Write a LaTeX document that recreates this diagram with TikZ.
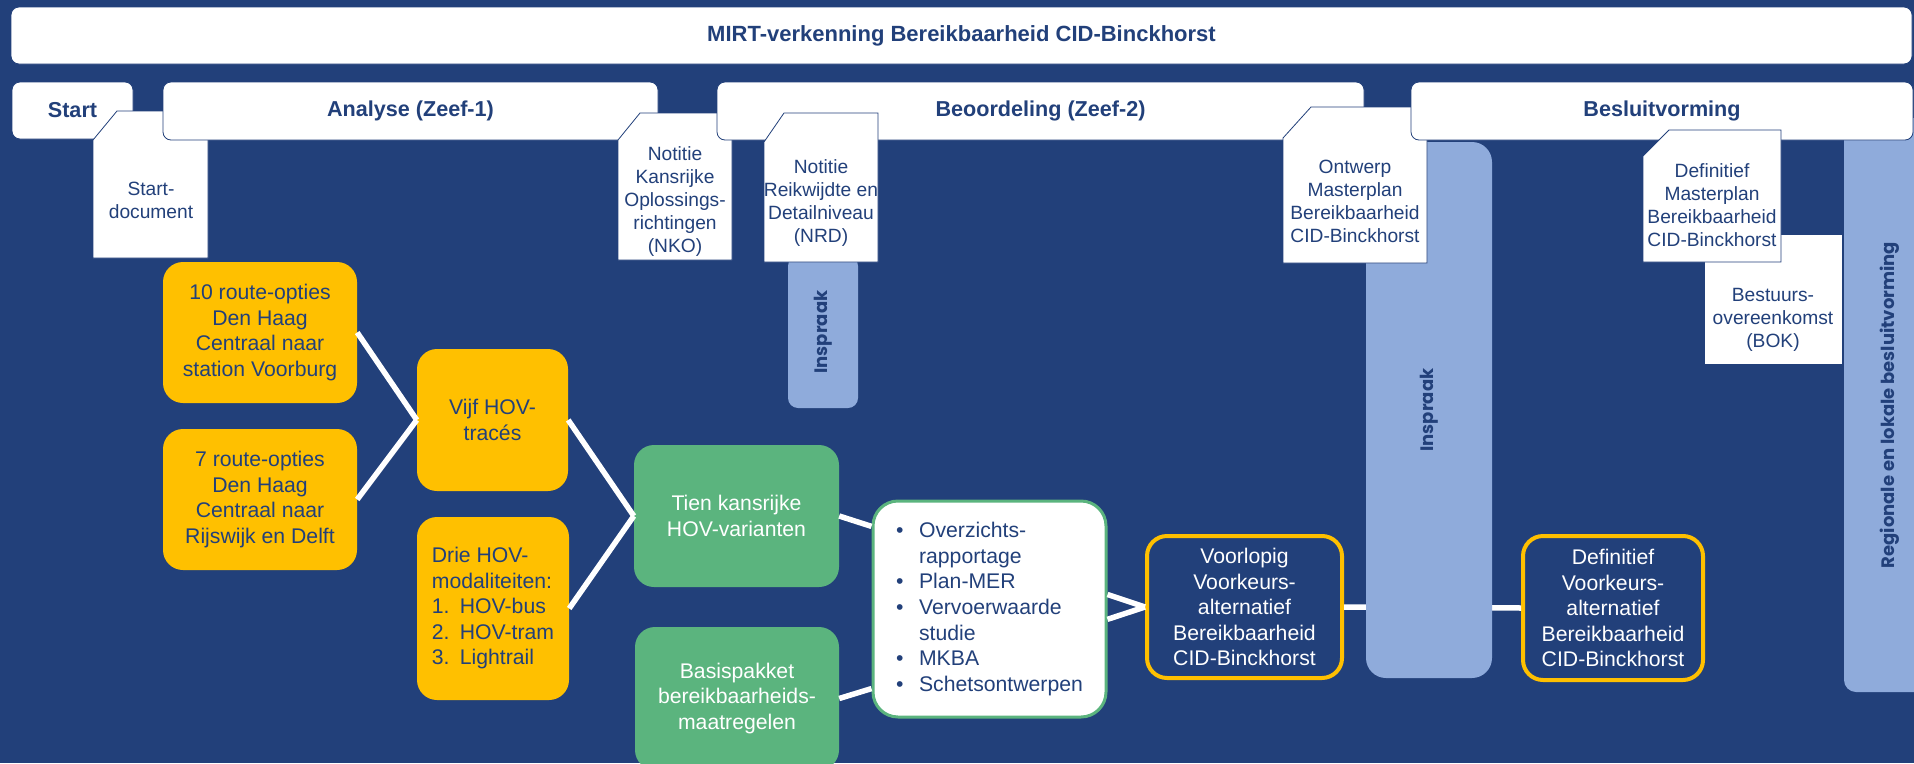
\documentclass[tikz,border=0pt]{standalone}
\usepackage{fontspec}
\setmainfont{Liberation Sans}
\newfontfamily\barfont{Poppins}
\definecolor{mirtblue}{RGB}{34,64,122}
\definecolor{mirtyellow}{RGB}{255,192,0}
\definecolor{mirtgreen}{RGB}{91,180,126}
\definecolor{mirtlight}{RGB}{143,171,219}

\begin{document}
\begin{tikzpicture}[x=1pt,y=-1pt,
    header/.style={fill=white, draw=mirtblue, line width=0.8pt, rounded corners=8pt, text=mirtblue, font=\fontsize{21.6}{26}\selectfont\bfseries},
    docline/.style={fill=white, draw=mirtblue, line width=0.8pt},
    doctext/.style={text=mirtblue, align=center, font=\fontsize{19.2}{23}\selectfont},
    ybox/.style={fill=mirtyellow, rounded corners=20pt, text=mirtblue, align=center, font=\fontsize{21.2}{25.5}\selectfont},
    gbox/.style={fill=mirtgreen, rounded corners=20pt, text=white, align=center, font=\fontsize{21.2}{25.5}\selectfont},
    vka/.style={draw=mirtyellow, line width=4pt, fill=mirtblue, rounded corners=20pt, text=white, align=center, font=\fontsize{21.2}{25.5}\selectfont},
    bar/.style={fill=mirtlight, text=mirtblue, font=\fontsize{18}{20}\selectfont\barfont\bfseries},
    link/.style={white, line width=5.5pt}]

    \fill[mirtblue] (0,0) rectangle (1914,763);
    \clip (0,0) rectangle (1914,763);

    \node[header, minimum width=1901pt, minimum height=57pt, font=\fontsize{22}{26}\selectfont\bfseries] (title) at (961.5,35.5) {MIRT-verkenning Bereikbaarheid CID-Binckhorst};

    % zeef 1
    \node[ybox, minimum width=194pt, minimum height=141pt] (opt10) at (260,332.5) {10 route-opties\\Den Haag\\Centraal naar\\station Voorburg};
    \node[ybox, minimum width=194pt, minimum height=141pt] (opt7) at (260,499.5) {7 route-opties\\Den Haag\\Centraal naar\\Rijswijk en Delft};
    \node[ybox, minimum width=151pt, minimum height=142pt] (vijf) at (492.5,420) {Vijf HOV-\\tracés};
    \node[ybox, minimum width=152pt, minimum height=183pt, align=left] (drie) at (493,608.5) {Drie HOV-\\modaliteiten:\\\makebox[28pt][l]{1.}HOV-bus\\\makebox[28pt][l]{2.}HOV-tram\\\makebox[28pt][l]{3.}Lightrail};

    % zeef 2
    \node[gbox, minimum width=205pt, minimum height=142pt] (tien) at (736.5,516) {Tien kansrijke\\HOV-varianten};
    \node[gbox, minimum width=204pt, minimum height=143pt] (basis) at (737,698.5) {Basispakket\\bereikbaarheids-\\maatregelen};
    \node[draw=mirtgreen, line width=3pt, fill=white, rounded corners=25pt, minimum width=233pt, minimum height=216pt, text=mirtblue, align=left, font=\fontsize{21.2}{25.6}\selectfont] (studies) at (989.5,609) {\makebox[23pt][l]{\textbullet}Overzichts-\\\hspace*{23pt}rapportage\\\makebox[23pt][l]{\textbullet}Plan-MER\\\makebox[23pt][l]{\textbullet}Vervoerwaarde\\\hspace*{23pt}studie\\\makebox[23pt][l]{\textbullet}MKBA\\\makebox[23pt][l]{\textbullet}Schetsontwerpen};
    \node[vka, minimum width=195pt, minimum height=142pt] (vka1) at (1244.5,607) {Voorlopig\\Voorkeurs-\\alternatief\\Bereikbaarheid\\CID-Binckhorst};
    \node[vka, minimum width=180pt, minimum height=144pt] (vka2) at (1613,608) {Definitief\\Voorkeurs-\\alternatief\\Bereikbaarheid\\CID-Binckhorst};

    \draw[link] (opt10.east) -- (vijf.west);
    \draw[link] (opt7.east) -- (vijf.west);
    \draw[link] (vijf.east) -- (tien.west);
    \draw[link] (drie.east) -- (tien.west);
    \draw[link] (tien.east) -- (studies.145);
    \draw[link] (basis.east) -- (studies.214);
    \draw[link] (studies.7) -- (vka1.west);
    \draw[link] (studies.355) -- (vka1.west);
    \draw[link] (vka1.east) -- (vka2.west); %onder inspraak door

    % fasen en documenten
    \node[header, minimum width=121pt, minimum height=57pt] (start) at (72.5,110.5) {Start};
    \filldraw[docline] (117,111) -- (208,111) -- (208,258) -- (93,258) -- (93,140) -- cycle; %startdocument
    \node[doctext] (startdoc) at (151,200) {Start-\\document};
    \node[header, minimum width=495pt, minimum height=58pt] (analyse) at (410.5,111) {Analyse (Zeef-1)};
    \filldraw[docline] (640,113) -- (732,113) -- (732,260) -- (618,260) -- (618,140) -- cycle; %NKO
    \node[doctext] (nko) at (675,201.5) {Notitie\\Kansrijke\\Oplossings-\\richtingen\\(NKO)};
    \node[header, minimum width=647pt, minimum height=58pt] (beoordeling) at (1040.5,111) {Beoordeling (Zeef-2)};
    \node[bar, minimum width=70pt, minimum height=152pt, rounded corners=10pt] (inspraak1) at (823,332) {\rotatebox{90}{Inspraak}};
    \filldraw[docline] (784,113) -- (878,113) -- (878,262) -- (764,262) -- (764,142) -- cycle; %NRD
    \node[doctext] (nrd) at (821,203) {Notitie\\Reikwijdte en\\Detailniveau\\(NRD)};

    \node[bar, minimum width=126pt, minimum height=536pt, rounded corners=20pt] (inspraak2) at (1429,410) {\rotatebox{90}{Inspraak}};
    \filldraw[docline] (1311,107) -- (1427,107) -- (1427,263) -- (1283,263) -- (1283,138) -- cycle; %ontwerp masterplan
    \node[doctext] (ontwerp) at (1355,201.5) {Ontwerp\\Masterplan\\Bereikbaarheid\\CID-Binckhorst};
    \node[bar, minimum width=92pt, minimum height=574pt, rounded corners=12pt] (regio) at (1890,405) {\rotatebox{90}{Regionale en lokale besluitvorming}};
    \node[header, minimum width=502pt, minimum height=58pt] (besluit) at (1662,111) {Besluitvorming};
    \filldraw[docline] (1704,234) rectangle (1842,364); %BOK
    \node[doctext] (bok) at (1773,320) {Bestuurs-\\overeenkomst\\(BOK)};
    \filldraw[docline] (1669,130) -- (1781,130) -- (1781,262) -- (1643,262) -- (1643,156) -- cycle; %definitief masterplan
    \node[doctext] (definitief) at (1712,205) {Definitief\\Masterplan\\Bereikbaarheid\\CID-Binckhorst};

\end{tikzpicture}
\end{document}
